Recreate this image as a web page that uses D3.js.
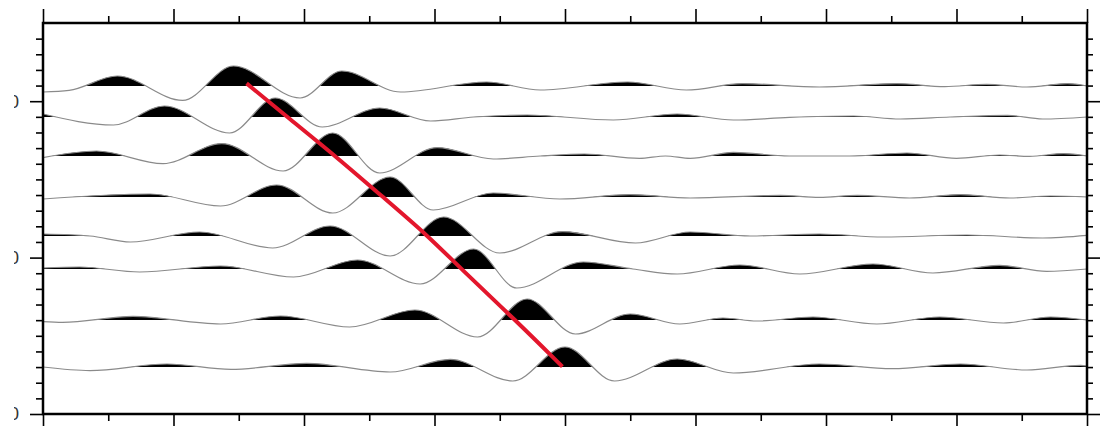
<!DOCTYPE html>
<html>
<head>
<meta charset="utf-8">
<script src="https://cdn.jsdelivr.net/npm/d3@7"></script>
<style>
  html, body { margin: 0; padding: 0; background: #fff; }
  svg { display: block; }
</style>
</head>
<body>
<script>
// Record section: eight traces plotted against distance, with a picked moveout line.

// Axis extents and ticks
const timeDomain = [0, 8];
const distDomain = [5, 30];
const xMajorTicks = [0, 1, 2, 3, 4, 5, 6, 7, 8];
const xMinorTicks = [0.5, 1.5, 2.5, 3.5, 4.5, 5.5, 6.5, 7.5];
const yMajorTicks = [10, 20, 30];
const yMinorTicks = [6, 7, 8, 9, 11, 12, 13, 14, 15, 16, 17, 18, 19, 21, 22, 23, 24, 25, 26, 27, 28, 29];
const yTickLabels = ["10", "20", "30"];

// Trace offsets (distance of each station)
const traceDistances = [9.0, 11.0, 13.5, 16.1, 18.6, 20.7, 24.0, 27.0];

// Trace waveforms: [time, normalised amplitude] at the turning points of each wiggle
const trace1 = [[0, -0.30], [0.20, -0.22], [0.57, 0.50], [1.07, -0.72], [1.46, 1.0], [1.97, -0.60], [2.29, 0.75], [2.74, -0.30], [3.40, 0.20], [3.81, -0.20], [4.48, 0.20], [4.93, -0.20], [5.36, 0.12], [5.95, -0.05], [6.54, 0.12], [6.91, -0.03], [7.23, 0.08], [7.54, -0.05], [7.85, 0.12], [8.0, 0.0]];
const trace2 = [[0, 0.15], [0.54, -0.40], [0.93, 0.55], [1.43, -0.80], [1.78, 0.95], [2.14, -0.50], [2.58, 0.45], [2.97, -0.20], [3.30, 0.0], [3.71, 0.10], [4.37, -0.15], [4.86, 0.15], [5.29, -0.15], [5.72, -0.02], [6.21, 0.05], [6.57, -0.10], [6.95, 0.0], [7.39, 0.08], [7.66, -0.10], [8.0, 0.0]];
const trace3 = [[0, -0.08], [0.41, 0.25], [0.92, -0.38], [1.37, 0.62], [1.84, -0.75], [2.22, 1.15], [2.58, -0.85], [3.02, 0.42], [3.45, -0.15], [3.81, 0.0], [4.15, 0.10], [4.57, -0.12], [4.77, 0.0], [4.96, -0.12], [5.29, 0.18], [5.72, 0.0], [6.18, 0.0], [6.62, 0.15], [7.0, -0.12], [7.33, 0.05], [7.56, -0.02], [7.82, 0.12], [8.0, 0.0]];
const trace4 = [[0, -0.10], [0.82, 0.15], [1.36, -0.45], [1.79, 0.60], [2.22, -0.80], [2.66, 1.0], [2.99, -0.65], [3.45, 0.20], [3.96, -0.10], [4.50, 0.12], [4.96, -0.05], [5.65, 0.08], [5.95, -0.02], [6.24, 0.08], [6.64, -0.05], [7.03, 0.12], [7.41, -0.05], [7.72, 0.05], [8.0, 0.0]];
const trace5 = [[0, 0.10], [0.36, 0.0], [0.67, -0.30], [1.20, 0.20], [1.76, -0.60], [2.20, 0.50], [2.66, -1.0], [3.07, 0.95], [3.50, -0.85], [3.98, 0.22], [4.54, -0.35], [4.96, 0.20], [5.42, 0.0], [5.95, 0.10], [6.44, -0.05], [7.08, 0.05], [7.66, -0.10], [8.0, 0.03]];
const trace6 = [[0, 0.05], [0.28, 0.10], [0.74, -0.15], [1.36, 0.15], [1.92, -0.40], [2.41, 0.45], [2.89, -0.75], [3.30, 1.0], [3.63, -0.95], [4.14, 0.35], [4.52, 0.0], [4.86, -0.25], [5.34, 0.20], [5.80, -0.25], [6.36, 0.25], [6.82, -0.20], [7.33, 0.18], [7.69, -0.12], [8.0, 0.0]];
const trace7 = [[0, -0.08], [0.15, -0.12], [0.69, 0.18], [1.36, -0.20], [1.82, 0.20], [2.35, -0.35], [2.85, 0.50], [3.33, -0.85], [3.71, 1.05], [4.08, -0.70], [4.50, 0.30], [4.88, -0.20], [5.21, 0.10], [5.47, -0.05], [5.90, 0.15], [6.39, -0.20], [6.87, 0.15], [7.36, -0.15], [7.72, 0.15], [8.0, 0.0]];
const trace8 = [[0, 0.0], [0.36, -0.18], [0.95, 0.15], [1.44, -0.12], [2.02, 0.18], [2.66, -0.25], [3.12, 0.38], [3.60, -0.70], [4.0, 1.0], [4.38, -0.70], [4.86, 0.40], [5.29, -0.30], [5.95, 0.15], [6.51, -0.08], [7.03, 0.15], [7.54, -0.15], [7.95, 0.08], [8.0, 0.05]];
const traces = [trace1, trace2, trace3, trace4, trace5, trace6, trace7, trace8];

// Picked arrival of the main phase on each trace (time, distance)
const pickTimes = [1.56, 1.87, 2.24, 2.60, 2.95, 3.20, 3.62, 3.98];
const pickDistances = [8.86, 11.0, 13.5, 16.1, 18.6, 20.7, 24.0, 26.97];

const W = 1106, H = 426;
const frame = { left: 43, top: 23, right: 1087, bottom: 414 };

const svg = d3.select("body").append("svg")
  .attr("width", W).attr("height", H)
  .attr("viewBox", `0 0 ${W} ${H}`);

const x = d3.scaleLinear().domain(timeDomain).range([frame.left, frame.right]);
const y = d3.scaleLinear().domain(distDomain).range([frame.top, frame.bottom]);
const amp = d3.scaleLinear().domain([0, 1]).range([0, 20]);

const defs = svg.append("defs");
defs.append("clipPath").attr("id", "plot-clip")
  .append("rect")
  .attr("x", frame.left).attr("y", frame.top)
  .attr("width", frame.right - frame.left).attr("height", frame.bottom - frame.top);

const plot = svg.append("g").attr("clip-path", "url(#plot-clip)");

traces.forEach((tr, i) => {
  const base = Math.round(y(traceDistances[i]));
  const clipId = "pos-" + i;
  // only the positive half of each wiggle is filled
  defs.append("clipPath").attr("id", clipId)
    .append("rect")
    .attr("x", frame.left).attr("y", 0)
    .attr("width", frame.right - frame.left).attr("height", base);

  const area = d3.area()
    .x(d => x(d[0]))
    .y0(base + 2)
    .y1(d => base - amp(d[1]))
    .curve(d3.curveMonotoneX);
  const line = d3.line()
    .x(d => x(d[0]))
    .y(d => base - amp(d[1]))
    .curve(d3.curveMonotoneX);

  const g = plot.append("g").attr("class", "trace");
  g.append("path").datum(tr)
    .attr("d", area)
    .attr("clip-path", `url(#${clipId})`)
    .attr("fill", "#000");
  g.append("path").datum(tr)
    .attr("d", line)
    .attr("fill", "none")
    .attr("stroke", "#8a8a8a")
    .attr("stroke-width", 1.2);
});

// Moveout curve through the picks
plot.append("path")
  .datum(d3.zip(pickTimes, pickDistances))
  .attr("d", d3.line().x(d => x(d[0])).y(d => y(d[1])).curve(d3.curveBasis))
  .attr("fill", "none")
  .attr("stroke", "#e3162c")
  .attr("stroke-width", 4)
  .attr("stroke-linejoin", "round");

// Axes: ticks on all four sides, pointing outward
function styleAxis(g) {
  g.select(".domain").remove();
  g.selectAll(".tick line").attr("stroke", "#000").attr("stroke-width", 1.6);
  g.selectAll(".tick text").remove();
}
svg.append("g").attr("transform", `translate(0,${frame.top})`)
  .call(d3.axisTop(x).tickValues(xMajorTicks).tickSize(14)).call(styleAxis);
svg.append("g").attr("transform", `translate(0,${frame.top})`)
  .call(d3.axisTop(x).tickValues(xMinorTicks).tickSize(7)).call(styleAxis);
svg.append("g").attr("transform", `translate(0,${frame.bottom})`)
  .call(d3.axisBottom(x).tickValues(xMajorTicks).tickSize(12)).call(styleAxis);
svg.append("g").attr("transform", `translate(0,${frame.bottom})`)
  .call(d3.axisBottom(x).tickValues(xMinorTicks).tickSize(7)).call(styleAxis);
svg.append("g").attr("transform", `translate(${frame.left},0)`)
  .call(d3.axisLeft(y).tickValues(yMajorTicks).tickSize(13)).call(styleAxis);
svg.append("g").attr("transform", `translate(${frame.left},0)`)
  .call(d3.axisLeft(y).tickValues(yMinorTicks).tickSize(7)).call(styleAxis);
svg.append("g").attr("transform", `translate(${frame.right},0)`)
  .call(d3.axisRight(y).tickValues(yMajorTicks).tickSize(13)).call(styleAxis);
svg.append("g").attr("transform", `translate(${frame.right},0)`)
  .call(d3.axisRight(y).tickValues(yMinorTicks).tickSize(6)).call(styleAxis);

// Distance labels, trimmed at the left margin
defs.append("clipPath").attr("id", "label-clip")
  .append("rect").attr("x", 14).attr("y", 0).attr("width", 29).attr("height", H);
svg.append("g").attr("clip-path", "url(#label-clip)")
  .selectAll("text").data(yMajorTicks).join("text")
  .attr("x", 19)
  .attr("y", d => y(d))
  .attr("dy", "0.35em")
  .attr("text-anchor", "end")
  .attr("font-family", "Liberation Sans, Arial, sans-serif")
  .attr("font-size", 18)
  .attr("fill", "#333")
  .text((d, i) => yTickLabels[i]);

// Frame
svg.append("rect")
  .attr("x", frame.left).attr("y", frame.top)
  .attr("width", frame.right - frame.left).attr("height", frame.bottom - frame.top)
  .attr("fill", "none").attr("stroke", "#000").attr("stroke-width", 2.5);
</script>
</body>
</html>
